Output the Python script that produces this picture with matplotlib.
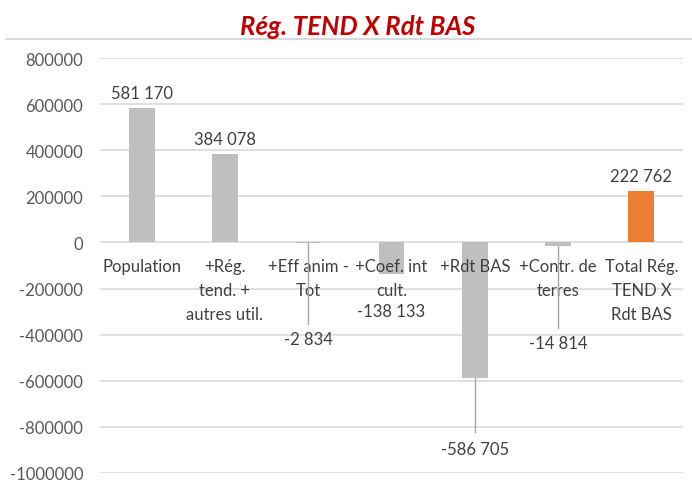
import matplotlib
matplotlib.use('Agg')
import matplotlib.pyplot as plt
from matplotlib.lines import Line2D

plt.rcParams['font.family'] = ['Lato', 'DejaVu Sans']

# données
categories = ['Population', '+Rég.\ntend. +\nautres util.', '+Eff anim -\nTot', '+Coef. int\ncult.',
              '+Rdt BAS', '+Contr. de\nterres', 'Total Rég.\nTEND X\nRdt BAS']
values = [581170, 384078, -2834, -138133, -586705, -14814, 222762]
value_labels = ['581 170', '384 078', '-2 834', '-138 133', '-586 705', '-14 814', '222 762']
yticks = [800000, 600000, 400000, 200000, 0, -200000, -400000, -600000, -800000, -1000000]

# position des étiquettes de valeur (en unités de l'axe y) pour les barres négatives
label_y = {2: -417000, 3: -298000, 4: -898000, 5: -437000}
leader_end = {2: -355000, 4: -820000, 5: -370000}

fig = plt.figure(figsize=(6.92, 4.89), dpi=100)
ax = fig.add_axes([100 / 692, 1 - 474 / 489, 583 / 692, 415 / 489])

x = list(range(len(categories)))
colors = ['#BFBFBF'] * (len(values) - 1) + ['#ED7D31']
ax.bar(x, values, width=0.31, color=colors, zorder=2)

ax.set_xlim(-0.5, len(categories) - 0.5)
ax.set_ylim(-1000000, 800000)
ax.set_yticks(yticks)
ax.set_yticklabels([str(v) for v in yticks])
ax.tick_params(axis='y', length=0, pad=12, labelsize=12, labelcolor='#595959')
ax.set_xticks([])
ax.yaxis.grid(True, color='#D9D9D9', linewidth=1.2, zorder=0)
ax.set_axisbelow(True)
for s in ax.spines.values():
    s.set_visible(False)

# libellés des catégories sous l'axe zéro
for i, c in enumerate(categories):
    ax.text(i, -69000, c, ha='center', va='top', fontsize=12, color='#404040', linespacing=1.6, zorder=3)

# étiquettes de valeur
for i, v in enumerate(values):
    if v > 0:
        ax.text(i, v + 32000, value_labels[i], ha='center', va='bottom', fontsize=12, color='#404040')
    else:
        if i in leader_end:
            ax.plot([i, i], [v, leader_end[i]], color='#A6A6A6', linewidth=1, zorder=3)
        ax.text(i, label_y[i], value_labels[i], ha='center', va='center', fontsize=12, color='#404040')

fig.text(358 / 692, 1 - 27 / 489, 'Rég. TEND X Rdt BAS', ha='center', va='center', fontsize=18.5,
         fontweight='bold', fontstyle='italic', color='#C00000')
fig.add_artist(Line2D([6 / 692, 1], [1 - 40 / 489, 1 - 40 / 489], color='#D9D9D9', linewidth=1.5))

fig.savefig('out.png', dpi=100)
